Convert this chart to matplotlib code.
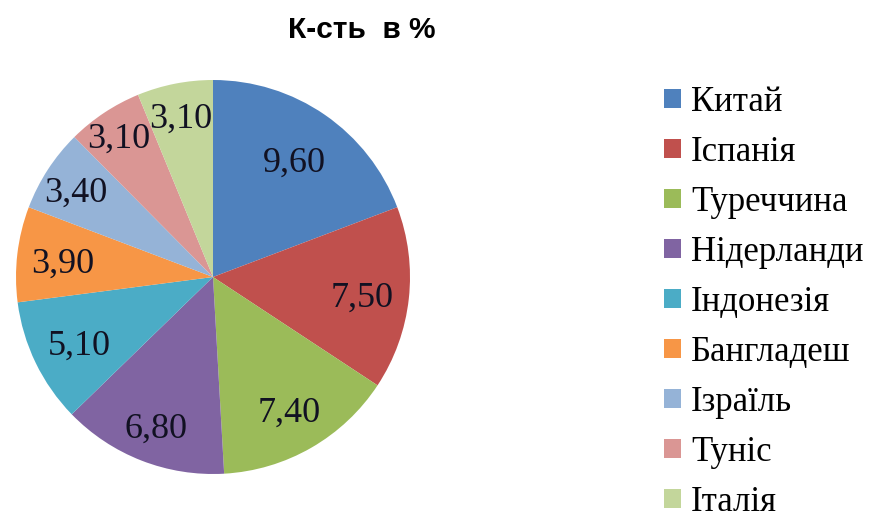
import matplotlib.pyplot as plt
import numpy as np

countries = ["Китай", "Іспанія", "Туреччина", "Нідерланди", "Індонезія",
             "Бангладеш", "Ізраїль", "Туніс", "Італія"]
shares = [9.6, 7.5, 7.4, 6.8, 5.1, 3.9, 3.4, 3.1, 3.1]
colors = ["#4F81BD", "#C0504D", "#9BBB59", "#8064A2", "#4BACC6",
          "#F79646", "#95B3D7", "#DA9694", "#C3D69B"]
# radial position of each value label (fraction of radius), as Excel placed them
label_radius = [0.73, 0.76, 0.77, 0.80, 0.755, 0.77, 0.83, 0.87, 0.84]

total = sum(shares)


def fmt(pct):
    return f"{pct * total / 100:.2f}".replace(".", ",")


fig = plt.figure(figsize=(8.86, 5.11), dpi=100)
ax = fig.add_axes([16 / 886, 37 / 511, 394 / 886, 394 / 511])
wedges, _, autotexts = ax.pie(
    shares, colors=colors, startangle=90, counterclock=False,
    autopct=fmt, pctdistance=0.73,
    textprops={"family": "Liberation Serif", "fontsize": 26, "color": "#111122"},
    wedgeprops={"linewidth": 0},
)
for w, t, r in zip(wedges, autotexts, label_radius):
    mid = np.deg2rad((w.theta1 + w.theta2) / 2)
    t.set_position((r * np.cos(mid), r * np.sin(mid) - 0.025))
ax.set_xlim(-1, 1)
ax.set_ylim(-1, 1)
ax.set_aspect("equal")

fig.text(362 / 886, 1 - 30 / 511, "К-сть  в %", ha="center", va="center",
         fontsize=21.5, fontweight="bold", family="Liberation Sans")

fig.legend(wedges, countries, loc="upper left", bbox_to_anchor=(664 / 886, 1 - 86 / 511),
           frameon=False, prop={"family": "Liberation Serif", "size": 25},
           handlelength=0.48, handleheight=0.48, handletextpad=0.3, labelspacing=0.49,
           borderaxespad=0, borderpad=0)

fig.savefig("out.png")
